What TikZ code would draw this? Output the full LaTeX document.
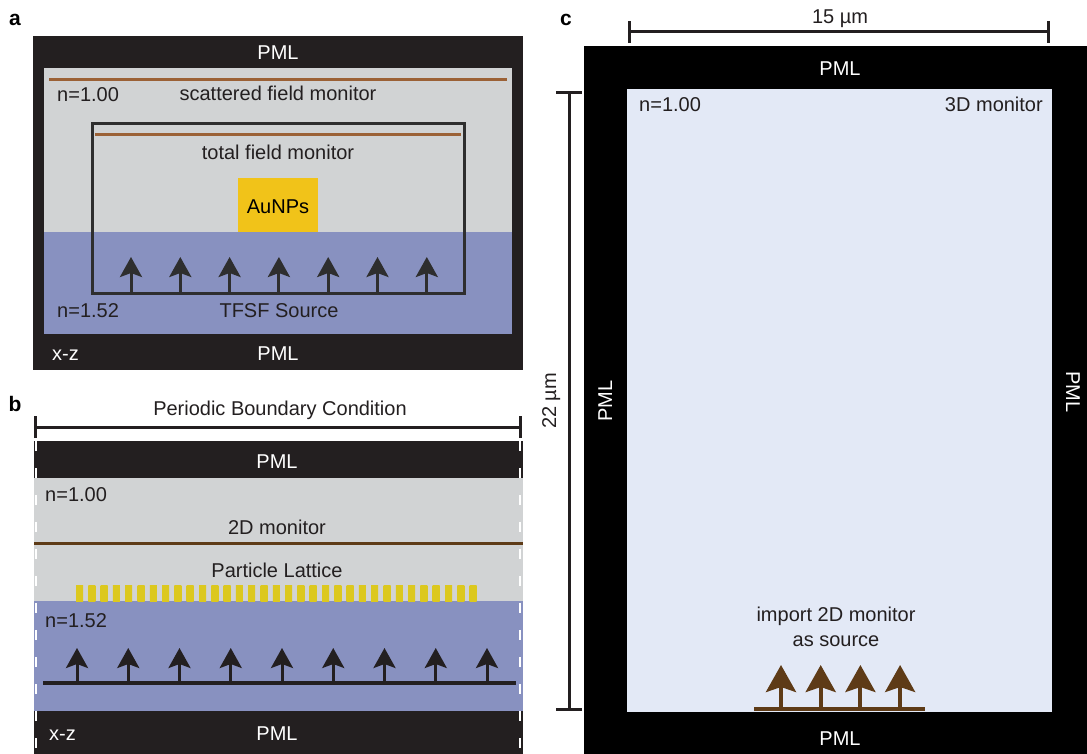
\documentclass[tikz,border=0pt]{standalone}
\usepackage{fontspec}
\setmainfont{Liberation Sans}
\usetikzlibrary{arrows.meta}

\definecolor{pmlblack}{HTML}{231F20}
\definecolor{airgray}{HTML}{D1D3D4}
\definecolor{glassblue}{HTML}{8891C0}
\definecolor{monbrown}{HTML}{9B6136}
\definecolor{latbrown}{HTML}{5E3B17}
\definecolor{augold}{HTML}{F1C319}
\definecolor{baredge}{HTML}{DCC81E}
\definecolor{barmid}{HTML}{F8EE42}
\definecolor{paleblue}{HTML}{E3E9F6}
\definecolor{inkgray}{HTML}{2E2E2E}

\begin{document}
\begin{tikzpicture}[x=1pt, y=-1pt,
            lbl/.style={font=\fontsize{20}{24}\selectfont, text=pmlblack, inner sep=0pt, text height=14pt, text depth=0pt},
            wlbl/.style={lbl, text=white},
            tag/.style={font=\fontsize{21}{24}\selectfont\bfseries, inner sep=0pt, text height=14pt, text depth=0pt},
            srcarrow/.style={-{Stealth[length=20pt, width=22pt, inset=4pt]}, line width=3pt},
            bigarrow/.style={-{Stealth[length=27pt, width=30pt, inset=5pt]}, line width=4pt, latbrown},
            dimline/.style={{Bar[width=22pt]}-{Bar[width=22pt]}, line width=3pt, pmlblack},
            pbcdash/.style={white, line width=2.5pt, dash pattern=on 10pt off 17pt}
        ]
        \useasboundingbox (0,0) rectangle (1087,754);

        % --- (a) TFSF cell ---
        \fill[pmlblack] (33,36) rectangle (523,370);
        \fill[airgray] (44,68) rectangle (512,232);
        \fill[glassblue] (44,232) rectangle (512,334);
        \draw[monbrown, line width=3pt] (49,80) -- (507,80);
        \fill[augold] (238,178) rectangle (318,232);
        \draw[inkgray, line width=3pt] (92,124) rectangle (464,293);
        \draw[monbrown, line width=3pt] (95,135) -- (461,135);
        \foreach \i in {0,...,6} {
            \coordinate (srcA\i) at ({131+49.3*\i},293);
            \coordinate (tipA\i) at ({131+49.3*\i},257);
            \draw[srcarrow, inkgray] (srcA\i) -- (tipA\i);
        }
        \node[tag] (tagA) at (15,19) {a};
        \node[wlbl] (pmlTopA) at (278,53) {PML};
        \node[lbl] (scatMon) at (278,94) {scattered field monitor};
        \node[lbl, anchor=west] (nAirA) at (57,95) {n=1.00};
        \node[lbl] (totMon) at (278,153) {total field monitor};
        \node[lbl, text=black] (aunp) at (278,207) {AuNPs};
        \node[lbl, anchor=west] (nGlassA) at (57,310) {n=1.52};
        \node[lbl] (tfsf) at (279,310) {TFSF Source};
        \node[wlbl] (pmlBotA) at (278,353) {PML};
        \node[wlbl, anchor=west] (xzA) at (52,353) {x-z};

        % --- (b) periodic cell ---
        \fill[pmlblack] (34,441) rectangle (523,478);
        \fill[airgray] (34,478) rectangle (523,601);
        \fill[glassblue] (34,601) rectangle (523,711);
        \fill[pmlblack] (34,711) rectangle (523,754);
        \draw[latbrown, line width=3pt] (34,543) -- (523,543);
        \foreach \i in {0,...,32}
            \shade[left color=baredge, middle color=barmid, right color=baredge] ({76+12.3*\i},585) rectangle +(7,16);
        \draw[pbcdash] (36,441) -- (36,754);
        \draw[pbcdash] (520,441) -- (520,754);
        \coordinate (pbcL) at (34,427);
        \coordinate (pbcR) at (522,427);
        \draw[dimline] (pbcL) -- (pbcR);
        \coordinate (srcLineL) at (43,683);
        \coordinate (srcLineR) at (516,683);
        \draw[pmlblack, line width=4pt] (srcLineL) -- (srcLineR);
        \foreach \i in {0,...,8} {
            \coordinate (srcB\i) at ({77+51.25*\i},683);
            \coordinate (tipB\i) at ({77+51.25*\i},648);
            \draw[srcarrow, pmlblack] (srcB\i) -- (tipB\i);
        }
        \node[tag] (tagB) at (15,404) {b};
        \node[lbl] (pbc) at (280,408) {Periodic Boundary Condition};
        \node[wlbl] (pmlTopB) at (277,461) {PML};
        \node[lbl, anchor=west] (nAirB) at (45,494) {n=1.00};
        \node[lbl] (mon2d) at (277,527) {2D monitor};
        \node[lbl] (lattice) at (277,570) {Particle Lattice};
        \node[lbl, anchor=west] (nGlassB) at (45,620) {n=1.52};
        \node[wlbl] (pmlBotB) at (277,733) {PML};
        \node[wlbl, anchor=west] (xzB) at (49,733) {x-z};

        % --- (c) 3D cell ---
        \fill[black] (584,46) rectangle (1087,754);
        \fill[paleblue] (627,89) rectangle (1052,712);
        \coordinate (wL) at (628,32);
        \coordinate (wR) at (1050,32);
        \draw[dimline] (wL) -- (wR);
        \coordinate (hT) at (569,91);
        \coordinate (hB) at (569,711);
        \draw[dimline, {Bar[width=26pt]}-{Bar[width=26pt]}] (hT) -- (hB);
        \coordinate (impL) at (754,709);
        \coordinate (impR) at (925,709);
        \draw[latbrown, line width=4pt] (impL) -- (impR);
        \foreach \i in {0,...,3} {
            \coordinate (srcC\i) at ({781+39.7*\i},709);
            \coordinate (tipC\i) at ({781+39.7*\i},665);
            \draw[bigarrow] (srcC\i) -- (tipC\i);
        }
        \node[tag] (tagC) at (566,19) {c};
        \node[lbl] (width) at (840,17) {15 µm};
        \node[lbl, rotate=90] (height) at (549,401) {22 µm};
        \node[wlbl] (pmlTopC) at (840,69) {PML};
        \node[wlbl, rotate=90] (pmlLeftC) at (605,401) {PML};
        \node[wlbl, rotate=-90] (pmlRightC) at (1073,392) {PML};
        \node[wlbl] (pmlBotC) at (840,738) {PML};
        \node[lbl, anchor=west] (nAirC) at (639,105) {n=1.00};
        \node[lbl, anchor=east] (mon3d) at (1043,105) {3D monitor};
        \node[lbl] (imp1) at (836,614) {import 2D monitor};
        \node[lbl] (imp2) at (836,639) {as source};
        \end{tikzpicture}
\end{document}
